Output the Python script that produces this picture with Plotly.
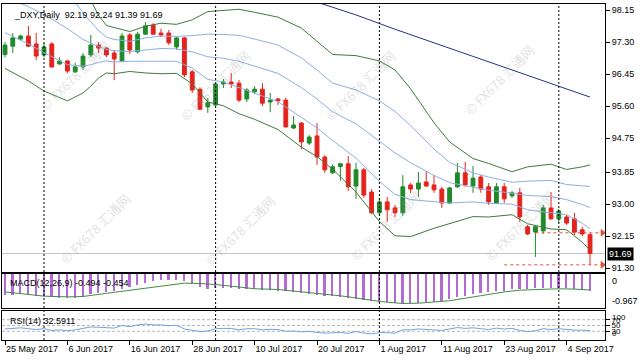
import plotly.graph_objects as go
import pandas as pd

# ---------------- data ----------------
dates = pd.bdate_range("2017-05-25", "2017-09-07")

opens = [96.97, 97.19, 97.38, 97.46, 97.25, 96.96, 97.25, 96.72, 96.80, 96.51,
         96.64, 96.96, 97.22, 97.14, 97.01, 96.80, 97.49, 97.04, 97.51, 97.75,
         97.54, 97.54, 97.17, 97.41, 96.51, 96.05, 95.58, 95.63, 96.19, 96.24,
         96.21, 95.79, 95.98, 96.05, 95.71, 95.79, 95.76, 95.02, 95.15, 94.62,
         94.81, 94.25, 93.83, 94.00, 94.07, 93.48, 93.91, 93.32, 92.77, 93.06,
         92.90, 92.77, 93.51, 93.40, 93.59, 93.51, 93.40, 93.03, 93.46, 93.83,
         93.48, 93.72, 93.46, 93.03, 93.46, 93.22, 93.30, 92.40, 92.26, 92.29,
         92.90, 92.61, 92.66, 92.61, 92.32, 92.19]
highs = [97.30, 97.54, 97.50, 97.73, 97.54, 97.27, 97.30, 96.90, 96.82, 96.75,
         97.01, 97.49, 97.30, 97.17, 97.09, 97.54, 97.54, 97.57, 97.83, 97.80,
         97.65, 97.62, 97.44, 97.44, 96.56, 96.10, 95.82, 96.21, 96.32, 96.48,
         96.29, 96.08, 96.13, 96.21, 95.95, 95.82, 95.82, 95.34, 95.18, 94.83,
         95.15, 94.30, 94.05, 94.10, 94.28, 94.10, 93.96, 93.40, 93.16, 93.19,
         92.98, 93.77, 93.56, 93.85, 93.88, 93.77, 93.46, 93.46, 94.09, 94.12,
         94.01, 93.77, 93.56, 93.56, 93.56, 93.35, 93.43, 92.45, 92.45, 92.98,
         93.32, 92.87, 92.71, 92.77, 92.40, 92.24]
lows = [96.90, 97.01, 97.34, 97.17, 96.82, 96.90, 96.62, 96.69, 96.48, 96.48,
        96.56, 96.90, 97.01, 96.90, 96.29, 96.77, 96.98, 97.00, 97.49, 97.49,
        97.43, 97.22, 97.09, 96.37, 95.95, 95.49, 95.42, 95.58, 96.08, 96.08,
        95.71, 95.71, 95.92, 95.60, 95.44, 95.63, 95.03, 94.99, 94.46, 94.57,
        94.04, 93.83, 93.80, 93.62, 93.35, 93.14, 93.17, 92.74, 92.71, 92.53,
        92.66, 92.69, 93.30, 93.19, 93.46, 93.30, 92.90, 93.00, 93.43, 93.46,
        93.30, 93.30, 92.98, 93.00, 93.03, 93.17, 92.53, 92.18, 91.60, 92.21,
        92.58, 92.50, 92.45, 92.18, 92.15, 91.39]
closes = [97.22, 97.41, 97.46, 97.19, 96.93, 97.17, 96.64, 96.80, 96.53, 96.64,
          96.93, 97.22, 97.14, 96.96, 96.85, 97.46, 97.09, 97.51, 97.73, 97.51,
          97.49, 97.28, 97.41, 96.43, 96.03, 95.52, 95.69, 96.19, 96.24, 96.19,
          95.76, 96.03, 96.05, 95.68, 95.76, 95.74, 95.05, 95.10, 94.65, 94.78,
          94.25, 93.91, 93.99, 94.07, 93.46, 93.91, 93.24, 92.77, 93.06, 92.85,
          92.77, 93.46, 93.40, 93.56, 93.48, 93.38, 93.03, 93.43, 93.83, 93.51,
          93.69, 93.40, 93.06, 93.46, 93.14, 93.30, 92.66, 92.21, 92.40, 92.90,
          92.61, 92.82, 92.50, 92.26, 92.21, 91.69]

# Bollinger bands (20,2) green and (20,1) blue, read at sample bars
bb_idx = [0, 3, 5, 8, 10, 11, 12, 13, 14, 16, 18, 20, 22, 24, 26, 28, 30, 32, 35,
          38, 40, 42, 45, 48, 50, 52, 55, 57, 60, 62, 65, 67, 70, 72, 74, 75]
bb_upper2 = [100.38, 100.21, 100.06, 99.58, 98.79, 98.41, 98.01, 97.74, 97.68, 97.58,
             97.72, 97.80, 97.77, 97.89, 98.11, 98.13, 98.17, 98.09, 97.96, 97.67,
             97.32, 96.97, 96.94, 96.80, 96.56, 96.06, 95.16, 94.65, 94.21, 94.08,
             93.86, 93.99, 94.06, 93.92, 93.99, 94.04]
bb_upper1 = [99.43, 99.23, 99.04, 98.62, 98.08, 97.84, 97.60, 97.43, 97.37, 97.32,
             97.41, 97.46, 97.45, 97.47, 97.51, 97.50, 97.48, 97.38, 97.22, 96.88,
             96.56, 96.21, 96.03, 95.74, 95.46, 95.08, 94.46, 94.11, 93.83, 93.72,
             93.58, 93.61, 93.63, 93.52, 93.49, 93.47]
bb_mid = [98.49, 98.24, 98.03, 97.66, 97.37, 97.27, 97.18, 97.11, 97.07, 97.05,
          97.10, 97.13, 97.12, 97.04, 96.91, 96.87, 96.79, 96.67, 96.47, 96.09,
          95.79, 95.45, 95.13, 94.67, 94.36, 94.10, 93.76, 93.57, 93.44, 93.37,
          93.29, 93.23, 93.20, 93.12, 92.99, 92.91]
bb_lower1 = [97.55, 97.25, 97.02, 96.70, 96.66, 96.70, 96.76, 96.80, 96.77, 96.79,
             96.79, 96.80, 96.79, 96.61, 96.31, 96.24, 96.09, 95.96, 95.72, 95.30,
             95.02, 94.69, 94.22, 93.60, 93.26, 93.12, 93.06, 93.03, 93.06, 93.02,
             93.00, 92.85, 92.77, 92.72, 92.49, 92.35]
bb_lower2 = [96.60, 96.27, 96.00, 95.74, 95.95, 96.13, 96.35, 96.48, 96.46, 96.52,
             96.48, 96.46, 96.47, 96.19, 95.71, 95.61, 95.40, 95.25, 94.98, 94.51,
             94.26, 93.93, 93.32, 92.54, 92.16, 92.14, 92.36, 92.49, 92.67, 92.66,
             92.72, 92.48, 92.34, 92.32, 91.99, 91.78]

# long moving average (navy)
ma_long_idx = [40, 45, 50, 55, 60, 65, 70, 75]
ma_long = [98.36, 98.02, 97.64, 97.28, 96.93, 96.57, 96.21, 95.84]

# MACD(12,26,9): main as histogram, signal as line
macd_main = [-0.60, -0.59, -0.58, -0.59, -0.62, -0.62, -0.66, -0.67, -0.69, -0.68,
             -0.64, -0.58, -0.54, -0.51, -0.49, -0.42, -0.37, -0.31, -0.25, -0.21,
             -0.18, -0.17, -0.16, -0.21, -0.28, -0.37, -0.42, -0.41, -0.40, -0.40,
             -0.43, -0.43, -0.43, -0.45, -0.46, -0.47, -0.49, -0.51, -0.55, -0.56,
             -0.60, -0.62, -0.63, -0.65, -0.69, -0.70, -0.74, -0.78, -0.80, -0.81,
             -0.82, -0.82, -0.82, -0.82, -0.81, -0.79, -0.76, -0.71, -0.66, -0.62,
             -0.58, -0.54, -0.52, -0.49, -0.47, -0.44, -0.42, -0.42, -0.41, -0.40,
             -0.40, -0.40, -0.41, -0.43, -0.45, -0.494]
signal_idx = [0, 3, 5, 8, 10, 13, 15, 18, 21, 23, 25, 27, 30, 32, 35, 38, 40, 43,
              45, 48, 51, 53, 57, 60, 62, 64, 66, 68, 71, 73, 75]
macd_signal = [-0.51, -0.57, -0.63, -0.65, -0.64, -0.55, -0.49, -0.40, -0.30, -0.26,
               -0.27, -0.30, -0.37, -0.42, -0.44, -0.50, -0.54, -0.62, -0.68, -0.78,
               -0.84, -0.83, -0.76, -0.65, -0.57, -0.51, -0.46, -0.44, -0.42, -0.43,
               -0.454]

# RSI(14)
rsi = [38, 41, 42, 39, 36, 39, 33, 35, 32, 35, 40, 45, 44, 42, 41, 50, 46, 52, 55, 52,
       52, 49, 51, 38, 34, 29, 31, 39, 40, 40, 35, 39, 39, 35, 37, 36, 30, 31, 28, 30,
       26, 24, 25, 26, 23, 29, 24, 21, 26, 24, 24, 35, 35, 38, 37, 36, 33, 38, 43, 40,
       42, 39, 36, 41, 38, 40, 33, 29, 32, 39, 36, 39, 36, 34, 34, 32.59]

tick_dates = ["2017-05-25", "2017-06-06", "2017-06-16", "2017-06-28", "2017-07-10",
              "2017-07-20", "2017-08-01", "2017-08-11", "2017-08-23", "2017-09-04"]
tick_text = ["25 May 2017", "6 Jun 2017", "16 Jun 2017", "28 Jun 2017", "10 Jul 2017",
             "20 Jul 2017", "1 Aug 2017", "11 Aug 2017", "23 Aug 2017", "4 Sep 2017"]
price_ticks = [98.15, 97.30, 96.45, 95.60, 94.75, 93.85, 93.00, 92.15, 91.30]

# dashed level markers (level, start date)
levels = [(highs[-1], "2017-08-29"), (lows[-1], "2017-08-23")]

# ---------------- figure ----------------
n = len(dates)
x = list(range(n))
pos = {d: i for i, d in enumerate(dates)}
tick_pos = [pos[pd.Timestamp(d)] for d in tick_dates]
month_starts = [i for i in range(1, n) if dates[i].month != dates[i - 1].month]

W, H = 640, 360
ML, MR, MT, MB = 2, 35, 4, 20
PW, PH = W - ML - MR, H - MT - MB


def px_x(px):
    return (px - ML) / PW


def px_y(py):
    return (H - MB - py) / PH


FONT = "Liberation Sans, Arial, sans-serif"
GREEN_C = "#1f8a2a"
RED_C = "#e5231d"
BB_GREEN = "#3f7a3c"
BB_BLUE = "#8eaee2"
NAVY = "#27318a"

fig = go.Figure()

fig.add_trace(go.Scatter(x=bb_idx, y=bb_upper2, mode="lines", line=dict(color=BB_GREEN, width=1),
                         xaxis="x", yaxis="y", hoverinfo="skip"))
fig.add_trace(go.Scatter(x=bb_idx, y=bb_lower2, mode="lines", line=dict(color=BB_GREEN, width=1),
                         xaxis="x", yaxis="y", hoverinfo="skip"))
for arr in (bb_upper1, bb_mid, bb_lower1):
    fig.add_trace(go.Scatter(x=bb_idx, y=arr, mode="lines", line=dict(color=BB_BLUE, width=1),
                             xaxis="x", yaxis="y", hoverinfo="skip"))
fig.add_trace(go.Scatter(x=ma_long_idx, y=ma_long, mode="lines", line=dict(color=NAVY, width=1),
                         xaxis="x", yaxis="y", hoverinfo="skip"))

fig.add_trace(go.Candlestick(
    x=x, open=opens, high=highs, low=lows, close=closes,
    increasing=dict(line=dict(color=GREEN_C, width=1), fillcolor=GREEN_C),
    decreasing=dict(line=dict(color=RED_C, width=1), fillcolor=RED_C),
    whiskerwidth=0, xaxis="x", yaxis="y", hoverinfo="skip"))

for lvl, start in levels:
    s = pos[pd.Timestamp(start)]
    fig.add_trace(go.Scatter(x=[s, n + 0.55], y=[lvl, lvl], mode="lines",
                             line=dict(color="#e8503a", width=1, dash="3px,3px"),
                             xaxis="x", yaxis="y", hoverinfo="skip"))
    fig.add_trace(go.Scatter(x=[n + 0.6], y=[lvl], mode="markers",
                             marker=dict(symbol="triangle-right", size=7, color="#e8503a"),
                             xaxis="x", yaxis="y", hoverinfo="skip"))

fig.add_trace(go.Bar(x=x, y=macd_main, width=0.22, marker=dict(color="#b36ad8", line=dict(width=0)),
                     xaxis="x2", yaxis="y2", hoverinfo="skip"))
fig.add_trace(go.Scatter(x=signal_idx, y=macd_signal, mode="lines", line=dict(color="#3f8f3f", width=1),
                         xaxis="x2", yaxis="y2", hoverinfo="skip"))

fig.add_trace(go.Scatter(x=x, y=rsi, mode="lines", line=dict(color="#6aa6e2", width=1),
                         xaxis="x3", yaxis="y3", hoverinfo="skip"))

xr = [-0.385, 76.92]
dom_main = [px_y(272), 1.0]
dom_macd = [px_y(308), px_y(274)]
dom_rsi = [0.0, px_y(311)]

axis_common = dict(showline=True, mirror=True, linecolor="black", linewidth=1,
                   showgrid=False, zeroline=False)

fig.update_layout(
    width=W, height=H, margin=dict(l=ML, r=MR, t=MT, b=MB),
    paper_bgcolor="white", plot_bgcolor="white", showlegend=False,
    font=dict(family=FONT, size=9, color="black"),
    bargap=0,
    xaxis=dict(range=xr, anchor="y", showticklabels=False, ticks="",
               rangeslider=dict(visible=False), **axis_common),
    xaxis2=dict(range=xr, anchor="y2", showticklabels=False, ticks="", **axis_common),
    xaxis3=dict(range=xr, anchor="y3", tickvals=tick_pos, ticktext=tick_text,
                ticks="outside", ticklen=4, tickcolor="black",
                ticklabelposition="outside right",
                tickfont=dict(family=FONT, size=9, color="black"), **axis_common),
    yaxis=dict(domain=dom_main, range=[91.20, 98.31], side="right", anchor="x",
               tickvals=price_ticks, ticktext=[f"{v:.2f}" for v in price_ticks],
               ticks="outside", ticklen=4, tickcolor="black",
               tickfont=dict(family=FONT, size=9, color="black"), **axis_common),
    yaxis2=dict(domain=dom_macd, range=[-0.967, 0], side="right", anchor="x2",
                showticklabels=False, ticks="", **axis_common),
    yaxis3=dict(domain=dom_rsi, range=[0, 100], side="right", anchor="x3",
                tickvals=[70, 50, 30], ticktext=["70", "50", "30"],
                ticks="outside", ticklen=4, tickcolor="black",
                tickfont=dict(family=FONT, size=8, color="black"), **axis_common),
)

shapes = []
for m in month_starts:
    shapes.append(dict(type="line", xref="x", yref="paper", x0=m, x1=m, y0=0, y1=1,
                       line=dict(color="black", width=1, dash="2px,2px"), layer="above"))
shapes.append(dict(type="line", xref="paper", yref="y", x0=0, x1=1, y0=closes[-1], y1=closes[-1],
                   line=dict(color="#c4c4c4", width=1), layer="below"))
for lv in (70, 50, 30):
    shapes.append(dict(type="line", xref="paper", yref="y3", x0=0, x1=1, y0=lv, y1=lv,
                       line=dict(color="#b8b8b8", width=1, dash="3px,2px"), layer="below"))
fig.update_layout(shapes=shapes)

ann = []
# watermarks
wm = [(75, 75), (215, 85), (360, 85), (500, 80),
      (95, 228), (240, 230), (385, 225), (520, 225)]
for (wx, wy) in wm:
    ann.append(dict(text="© FX678 汇通网", xref="paper", yref="paper", x=px_x(wx), y=px_y(wy),
                    xanchor="center", yanchor="middle", showarrow=False, textangle=-45,
                    font=dict(family="Noto Sans CJK SC, sans-serif", size=13,
                              color="rgba(150,150,150,0.30)")))
ann.append(dict(text="_DXY,Daily\u00a0\u00a0" + f"{opens[-1]:.2f} {highs[-1]:.2f} {lows[-1]:.2f} {closes[-1]:.2f}",
                xref="paper", yref="paper", x=px_x(12), y=px_y(15), xanchor="left", yanchor="middle",
                showarrow=False, font=dict(family=FONT, size=9, color="black")))
ann.append(dict(text="MACD(12,26,9) -0.494 -0.454", xref="paper", yref="paper", x=px_x(8), y=px_y(283),
                xanchor="left", yanchor="middle", showarrow=False, font=dict(family=FONT, size=9, color="black")))
ann.append(dict(text="RSI(14) 32.5911", xref="paper", yref="paper", x=px_x(8), y=px_y(321),
                xanchor="left", yanchor="middle", showarrow=False, font=dict(family=FONT, size=9, color="black")))
# MACD scale labels
ann.append(dict(text="0", xref="paper", yref="y2", x=px_x(610), y=0, xanchor="left", yanchor="top",
                showarrow=False, font=dict(family=FONT, size=9, color="black")))
ann.append(dict(text="-0.967", xref="paper", yref="y2", x=px_x(610), y=-0.967, xanchor="left",
                yanchor="bottom", showarrow=False, font=dict(family=FONT, size=9, color="black")))
# RSI scale labels
ann.append(dict(text="100", xref="paper", yref="y3", x=px_x(610), y=100, xanchor="left", yanchor="top",
                showarrow=False, font=dict(family=FONT, size=8, color="black")))
ann.append(dict(text="0", xref="paper", yref="y3", x=px_x(610), y=0, xanchor="left", yanchor="bottom",
                showarrow=False, font=dict(family=FONT, size=8, color="black")))
# current price box
ann.append(dict(text=f"{closes[-1]:.2f}", xref="paper", yref="y", x=px_x(607), y=closes[-1],
                xanchor="left", yanchor="middle", showarrow=False, bgcolor="black",
                borderpad=1, font=dict(family=FONT, size=9, color="white")))
fig.update_layout(annotations=ann)

fig.write_html("out.html", config={"displayModeBar": False},
               post_script="document.body.style.margin='0px';document.body.style.overflow='hidden';")
